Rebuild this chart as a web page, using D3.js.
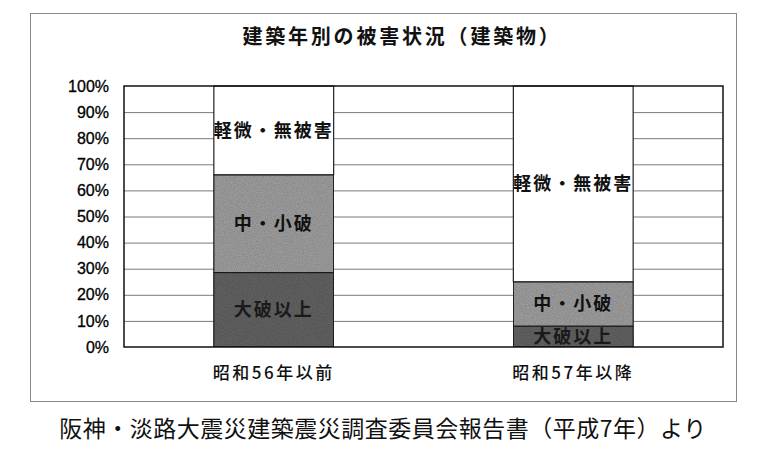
<!DOCTYPE html>
<meta charset="utf-8">
<style>
  body { margin: 0; background: #fff; }
  svg { display: block; }
  .jp { font-family: "Noto Sans CJK JP", "Noto Sans", sans-serif; }
</style>
<svg width="768" height="462"></svg>
<script src="https://d3js.org/d3.v7.min.js"></script>
<script>

// data (percent of buildings)
var categories = ["昭和56年以前", "昭和57年以降"];
var damageLevels = ["大破以上", "中・小破", "軽微・無被害"];
var severe = [28.5, 8];
var moderate = [37.5, 17];
var light = [34, 75];
var yTicks = [0, 10, 20, 30, 40, 50, 60, 70, 80, 90, 100];
var title = "建築年別の被害状況（建築物）";
var caption = "阪神・淡路大震災建築震災調査委員会報告書（平成7年）より";

var fills = ["#686868", "#a6a6a6", "#ffffff"];

var svg = d3.select("svg");

var rows = categories.map(function(c, i) {
  return { cat: c, "大破以上": severe[i], "中・小破": moderate[i], "軽微・無被害": light[i] };
});
var stacked = d3.stack().keys(damageLevels)(rows);

var plot = { left: 124, top: 86, right: 723, bottom: 347 };

var x = d3.scaleBand()
    .domain(categories)
    .range([plot.left, plot.right])
    .paddingInner(0.6)
    .paddingOuter(0.3);

var y = d3.scaleLinear()
    .domain([0, 100])
    .range([plot.bottom, plot.top]);

// grain filter to imitate the scanned texture
var defs = svg.append("defs");
var f = defs.append("filter").attr("id", "grain").attr("x", 0).attr("y", 0).attr("width", 1).attr("height", 1);
f.append("feTurbulence").attr("type", "fractalNoise").attr("baseFrequency", 0.9).attr("numOctaves", 2).attr("seed", 3).attr("result", "n");
f.append("feColorMatrix").attr("in", "n").attr("type", "matrix")
  .attr("values", "0 0 0 0 0  0 0 0 0 0  0 0 0 0 0  0 0 0 0.45 0").attr("result", "a");
f.append("feComposite").attr("in", "a").attr("in2", "SourceGraphic").attr("operator", "in").attr("result", "b");
var fm = f.append("feMerge");
fm.append("feMergeNode").attr("in", "SourceGraphic");
fm.append("feMergeNode").attr("in", "b");

// outer frame
svg.append("rect")
    .attr("x", 30.5).attr("y", 13.5)
    .attr("width", 706).attr("height", 388)
    .attr("fill", "none").attr("stroke", "#888").attr("stroke-width", 1);

// title
svg.append("text")
    .attr("class", "jp")
    .attr("x", 402).attr("y", 44)
    .attr("text-anchor", "middle")
    .attr("font-size", 20).attr("font-weight", "bold")
    .attr("letter-spacing", 2.8)
    .attr("fill", "#111")
    .text(title);

// gridlines
svg.append("g")
  .selectAll("line")
  .data(yTicks.slice(1, -1))
  .join("line")
    .attr("x1", plot.left).attr("x2", plot.right)
    .attr("y1", function(d) { return y(d) + 0.5; })
    .attr("y2", function(d) { return y(d) + 0.5; })
    .attr("stroke", "#7a7a7a").attr("stroke-width", 1);

// y axis labels
var yAxis = d3.axisLeft(y).tickValues(yTicks).tickSize(0).tickPadding(15)
    .tickFormat(function(d) { return d + "%"; });
svg.append("g")
    .attr("transform", "translate(" + plot.left + ",0)")
    .call(yAxis)
    .call(function(g) { g.select(".domain").remove(); })
    .selectAll("text")
      .attr("font-family", "Liberation Sans, Arial, sans-serif")
      .attr("font-size", 16)
      .attr("stroke", "#000").attr("stroke-width", 0.3)
      .attr("fill", "#000");

// bars
var layers = svg.append("g")
  .selectAll("g")
  .data(stacked)
  .join("g")
    .attr("fill", function(d, i) { return fills[i]; });

layers.selectAll("rect")
  .data(function(d) { return d; })
  .join("rect")
    .attr("x", function(d) { return x(d.data.cat); })
    .attr("y", function(d) { return y(d[1]); })
    .attr("width", x.bandwidth())
    .attr("height", function(d) { return y(d[0]) - y(d[1]); })
    .attr("filter", function() { return d3.select(this.parentNode).datum().index < 2 ? "url(#grain)" : null; })
    .attr("stroke", "#222").attr("stroke-width", 1.2);

// segment labels
layers.each(function(layer, li) {
  d3.select(this).selectAll("text")
    .data(layer)
    .join("text")
      .attr("class", "jp")
      .attr("x", function(d) { return x(d.data.cat) + x.bandwidth() / 2; })
      .attr("y", function(d) { return (y(d[0]) + y(d[1])) / 2; })
      .attr("dy", "0.36em")
      .attr("text-anchor", "middle")
      .attr("font-size", 18).attr("font-weight", "bold")
      .attr("letter-spacing", 2)
      .attr("fill", li === 0 ? "#1a1a1a" : "#111")
      .text(layer.key);
});

// plot border
svg.append("rect")
    .attr("x", plot.left).attr("y", plot.top)
    .attr("width", plot.right - plot.left).attr("height", plot.bottom - plot.top)
    .attr("fill", "none").attr("stroke", "#111").attr("stroke-width", 1.5);

// category labels
var xAxis = d3.axisBottom(x).tickSize(0).tickPadding(20);
svg.append("g")
    .attr("transform", "translate(0," + plot.bottom + ")")
    .call(xAxis)
    .call(function(g) { g.select(".domain").remove(); })
    .selectAll("text")
      .attr("class", "jp")
      .attr("font-size", 17)
      .attr("font-weight", 500)
      .attr("letter-spacing", 2.5)
      .attr("fill", "#111");

// source caption
svg.append("text")
    .attr("class", "jp")
    .attr("x", 383).attr("y", 437)
    .attr("text-anchor", "middle")
    .attr("font-size", 23)
    .attr("letter-spacing", 0.5)
    .attr("fill", "#111")
    .text(caption);

</script>
